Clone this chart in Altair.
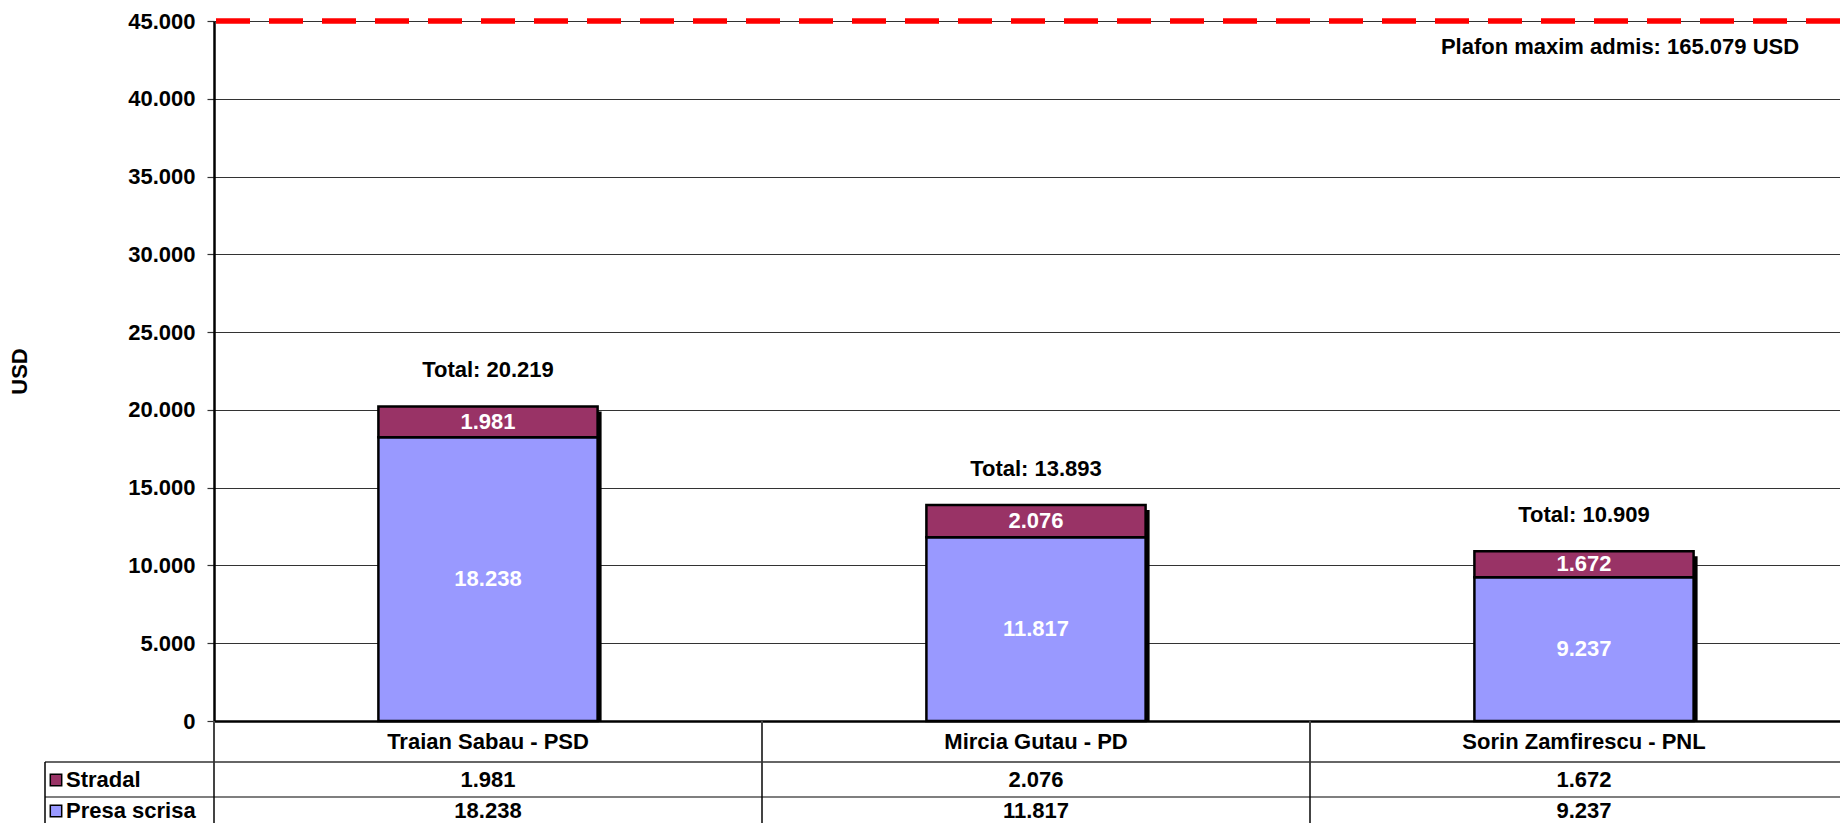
import altair as alt
import pandas as pd

# ---- data ----
candidates = ["Traian Sabau - PSD", "Mircia Gutau - PD", "Sorin Zamfirescu - PNL"]
presa_scrisa = [18238, 11817, 9237]
stradal = [1981, 2076, 1672]
series_names = ["Presa scrisa", "Stradal"]
series_colors = ["#9999FF", "#993366"]
y_ticks = [0, 5000, 10000, 15000, 20000, 25000, 30000, 35000, 40000, 45000]
limit_line = 45000
limit_text = "Plafon maxim admis: 165.079 USD"


def fmt(v):
    return f"{v:,}".replace(",", ".")


rows = []
for i, c in enumerate(candidates):
    rows.append({"cand": c, "series": "Presa scrisa", "value": presa_scrisa[i], "ord": 0,
                 "label": fmt(presa_scrisa[i])})
    rows.append({"cand": c, "series": "Stradal", "value": stradal[i], "ord": 1,
                 "label": fmt(stradal[i])})
long_df = pd.DataFrame(rows)

tot_df = pd.DataFrame({
    "cand": candidates,
    "total": [p + s for p, s in zip(presa_scrisa, stradal)],
})
tot_df["label"] = ["Total: " + fmt(t) for t in tot_df["total"]]

FONT = "Liberation Sans"
FS = 22
W = 1626
H = 700

x_scale = alt.Scale(domain=candidates, range=[0, 1644], paddingInner=0, paddingOuter=0)
y_scale = alt.Scale(domain=[0, 45000], nice=False, zero=True)
color_scale = alt.Scale(domain=series_names, range=series_colors)

x_enc = alt.X("cand:N", scale=x_scale, sort=candidates, title=None,
              axis=alt.Axis(labelAngle=0, ticks=False, tickSize=0, labelPadding=20,
                            labelBaseline="middle", labelFontSize=FS, labelFontWeight="bold",
                            labelColor="black", domainColor="black", domainWidth=2.5,
                            labelFont=FONT, grid=False, labelLimit=0))

y_axis = alt.Axis(values=y_ticks, labelExpr="replace(format(datum.value, ','), ',', '.')",
                  labelFontSize=FS, labelFontWeight="bold", labelColor="black", labelFont=FONT,
                  labelPadding=12, tickSize=7, tickColor="#333333", tickWidth=1.2,
                  domainColor="black", domainWidth=2.5,
                  grid=True, gridColor="#333333", gridWidth=1.2,
                  title="USD", titleFontSize=FS, titleFontWeight="bold", titleFont=FONT,
                  titleColor="black", titleAngle=270, titleX=-183, titleY=350,
                  titleAlign="center", titleBaseline="bottom")

base_long = alt.Chart(long_df)
base_tot = alt.Chart(tot_df)

shadow = base_tot.mark_bar(color="black", xOffset=4, yOffset=5,
                           width=alt.RelativeBandSize(0.4)).encode(
    x=x_enc,
    y=alt.Y("total:Q", scale=y_scale, axis=y_axis),
    y2=alt.datum(0),
)

bars = base_long.mark_bar(stroke="black", strokeWidth=2.5,
                          width=alt.RelativeBandSize(0.4)).encode(
    x=alt.X("cand:N", scale=x_scale, sort=candidates),
    y=alt.Y("value:Q", scale=y_scale, stack="zero"),
    color=alt.Color("series:N", scale=color_scale, legend=None),
    order=alt.Order("ord:Q"),
)

inlabels = base_long.transform_stack(
    stack="value", groupby=["cand"], as_=["v0", "v1"],
    sort=[alt.SortField("ord", order="ascending")],
).transform_calculate(mid="(datum.v0 + datum.v1) / 2").mark_text(
    color="white", font=FONT, fontSize=FS, fontWeight="bold", baseline="middle"
).encode(
    x=alt.X("cand:N", scale=x_scale, sort=candidates),
    y=alt.Y("mid:Q", scale=y_scale),
    text="label:N",
)

totals = base_tot.mark_text(color="black", font=FONT, fontSize=FS, fontWeight="bold",
                            baseline="middle", dy=-36).encode(
    x=alt.X("cand:N", scale=x_scale, sort=candidates),
    y=alt.Y("total:Q", scale=y_scale),
    text="label:N",
)

limit_rule = alt.Chart(pd.DataFrame({"v": [limit_line]})).mark_rule(
    color="#FF0000", strokeWidth=5.5, strokeDash=[34, 19]
).encode(y=alt.Y("v:Q", scale=y_scale))

limit_lbl = alt.Chart(pd.DataFrame({"v": [limit_line], "t": [limit_text]})).mark_text(
    color="black", font=FONT, fontSize=FS, fontWeight="bold", baseline="middle",
    align="center", dy=26
).encode(y=alt.Y("v:Q", scale=y_scale), x=alt.value(1406), text="t:N")

# table grid lines
separators = alt.Chart(pd.DataFrame({"cand": candidates})).mark_rule(
    color="#444444", strokeWidth=2
).encode(
    x=alt.X("cand:N", scale=x_scale, sort=candidates, bandPosition=0),
    y=alt.value(700), y2=alt.value(805),
)
hlines = alt.Chart(pd.DataFrame({"k": [0]})).mark_rule(color="#333333", strokeWidth=1.5).encode(
    x=alt.value(-169), x2=alt.value(1644),
    y=alt.value(741),
)
hlines2 = alt.Chart(pd.DataFrame({"k": [0]})).mark_rule(color="black", strokeWidth=1.2).encode(
    x=alt.value(-169), x2=alt.value(1644),
    y=alt.value(776),
)
left_border = alt.Chart(pd.DataFrame({"k": [0]})).mark_rule(color="black", strokeWidth=1.5).encode(
    x=alt.value(-169), y=alt.value(741), y2=alt.value(805),
)

main = alt.layer(shadow, bars, inlabels, totals, limit_rule, limit_lbl,
                 separators, hlines, hlines2, left_border)

row_scale = alt.Scale(type="point", domain=["Stradal", "Presa scrisa"], range=[759, 790], padding=0)

table_vals = base_long.mark_text(color="black", font=FONT, fontSize=FS, fontWeight="bold",
                                 baseline="middle").encode(
    x=alt.X("cand:N", scale=x_scale, sort=candidates),
    y=alt.Y("series:N", scale=row_scale, axis=None),
    text="label:N",
)

legend_df = pd.DataFrame({"series": series_names})
row_labels = alt.Chart(legend_df).mark_text(color="black", font=FONT, fontSize=FS,
                                            fontWeight="bold", baseline="middle",
                                            align="left").encode(
    x=alt.value(-148),
    y=alt.Y("series:N", scale=row_scale, axis=None),
    text="series:N",
)
swatches = alt.Chart(legend_df).mark_point(shape="square", filled=True, size=130, stroke="black",
                                           strokeWidth=1.5, opacity=1).encode(
    x=alt.value(-158),
    y=alt.Y("series:N", scale=row_scale, axis=None),
    fill=alt.Fill("series:N", scale=color_scale, legend=None),
)

table = alt.layer(table_vals, row_labels, swatches)

chart = alt.layer(main, table).resolve_scale(y="independent").properties(
    width=W, height=H,
    autosize=alt.AutoSizeParams(type="none"),
    padding={"left": 206, "top": 13, "right": 0, "bottom": 102},
).configure_view(strokeWidth=0).configure(font=FONT)

chart.save("out.html", embed_options={"renderer": "svg", "actions": False})
